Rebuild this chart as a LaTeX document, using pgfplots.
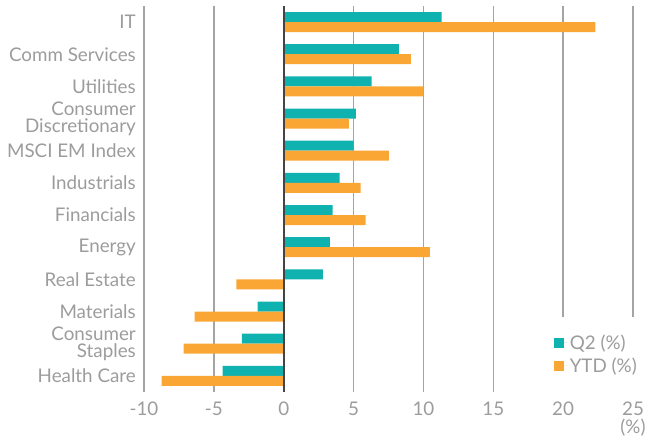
\documentclass[border=0pt]{standalone}
\usepackage{pgfplots}
\pgfplotsset{compat=1.18}
\usepackage{fontspec}
\setmainfont{Lato}
\definecolor{q2teal}{HTML}{10B2AF}
\definecolor{ytdorange}{HTML}{FAA635}
\definecolor{txtgray}{HTML}{9C9C9C}
\definecolor{gridgray}{HTML}{A4A4A4}
\definecolor{zerogray}{HTML}{444444}

\begin{document}
\begin{tikzpicture}
\useasboundingbox (-144bp,-51bp) rectangle (503bp,392bp);
\begin{axis}[
    scale only axis, width=489bp, height=386bp,
    xmin=-10, xmax=25, ymin=-0.5, ymax=11.5,
    xbar, bar width=10bp,
    axis line style={draw=none},
    major tick length=0pt,
    xtick={-10,-5,0,5,10,15,20,25},
    ytick={0,...,11},
    yticklabels={Health Care,Consumer\\Staples,Materials,Real Estate,Energy,Financials,Industrials,MSCI EM Index,Consumer\\Discretionary,Utilities,Comm Services,IT},
    xmajorgrids, ymajorgrids=false,
    grid style={draw=gridgray, line width=1.5bp},
    /pgf/number format/assume math mode=true,
    tick label style={font=\fontsize{18.8bp}{17.5bp}\selectfont, text=txtgray},
    yticklabel style={align=right, anchor=east, inner sep=0pt, xshift=-8bp},
    xticklabel style={anchor=north, inner sep=0pt, yshift=-10bp},
    xlabel={(\%)},
    xlabel style={at={(rel axis cs:1,0)}, anchor=north, yshift=-27bp, inner sep=0pt,
      font=\fontsize{18.8bp}{20bp}\selectfont, text=txtgray},
    legend style={at={(rel axis cs:1,0)}, anchor=south east, xshift=8bp,
      fill=white, draw=none, inner xsep=2bp, inner ysep=16bp,
      font=\fontsize{18.8bp}{20bp}\selectfont, text=txtgray,
      row sep=3bp},
    legend cell align=left,
    legend image code/.code={\fill[#1] (0bp,-5bp) rectangle (10bp,5bp);
      \path (0bp,0bp) -- (14bp,0bp);},
]
\addplot[fill=q2teal, draw=none, bar shift=5bp] coordinates {
 (11.3,11) (8.24,10) (6.3,9) (5.16,8) (5.0,7) (4.0,6) (3.5,5) (3.3,4) (2.8,3) (-1.86,2) (-3.0,1) (-4.37,0)};
\addlegendentry{Q2 (\%)}
\addplot[fill=ytdorange, draw=none, bar shift=-5bp] coordinates {
 (22.3,11) (9.1,10) (10.0,9) (4.66,8) (7.52,7) (5.5,6) (5.87,5) (10.46,4) (-3.39,3) (-6.38,2) (-7.16,1) (-8.74,0)};
\addlegendentry{YTD (\%)}
\draw[zerogray, line width=1.8bp] (axis cs:0,-0.5) -- (axis cs:0,11.5);
\end{axis}
\end{tikzpicture}
\end{document}
